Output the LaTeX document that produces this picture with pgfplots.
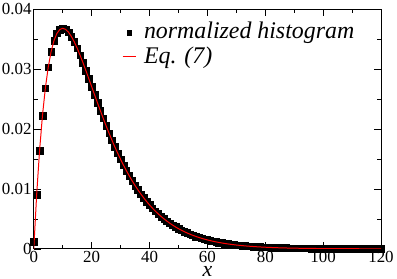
\documentclass[border={0pt 2pt 0pt 0pt}]{standalone}
\usepackage{fontspec}
\setmainfont{Liberation Serif}
\usepackage{pgfplots}
\usepackage{pgfplotstable}
\pgfplotsset{compat=1.18}
\pgfplotstableread{
x h f
0 0.001200 0
1 0.009048 0.009048
2 0.016375 0.016375
3 0.022225 0.022225
4 0.026813 0.026813
5 0.030327 0.030327
6 0.032929 0.032929
7 0.034761 0.034761
8 0.035946 0.035946
9 0.036591 0.036591
10 0.036788 0.036788
11 0.036616 0.036616
12 0.036143 0.036143
13 0.035429 0.035429
14 0.034524 0.034524
15 0.033470 0.033470
16 0.032304 0.032304
17 0.031056 0.031056
18 0.029754 0.029754
19 0.028418 0.028418
20 0.027067 0.027067
21 0.025716 0.025716
22 0.024377 0.024377
23 0.023060 0.023060
24 0.021772 0.021772
25 0.020521 0.020521
26 0.019311 0.019311
27 0.018146 0.018146
28 0.017027 0.017027
29 0.015957 0.015957
30 0.014936 0.014936
31 0.013965 0.013965
32 0.013044 0.013044
33 0.012171 0.012171
34 0.011347 0.011347
35 0.010569 0.010569
36 0.009837 0.009837
37 0.009148 0.009148
38 0.008501 0.008501
39 0.007894 0.007894
40 0.007326 0.007326
41 0.006795 0.006795
42 0.006298 0.006298
43 0.005835 0.005835
44 0.005402 0.005402
45 0.004999 0.004999
46 0.004624 0.004624
47 0.004275 0.004275
48 0.003950 0.003950
49 0.003649 0.003649
50 0.003369 0.003369
51 0.003109 0.003109
52 0.002869 0.002869
53 0.002646 0.002646
54 0.002439 0.002439
55 0.002248 0.002248
56 0.002071 0.002071
57 0.001907 0.001907
58 0.001756 0.001756
59 0.001616 0.001616
60 0.001487 0.001487
61 0.001368 0.001368
62 0.001258 0.001258
63 0.001157 0.001157
64 0.001064 0.001064
65 0.000977 0.000977
66 0.000898 0.000898
67 0.000825 0.000825
68 0.000758 0.000758
69 0.000696 0.000696
70 0.000638 0.000638
71 0.000586 0.000586
72 0.000538 0.000538
73 0.000493 0.000493
74 0.000452 0.000452
75 0.000415 0.000415
76 0.000380 0.000380
77 0.000349 0.000349
78 0.000320 0.000320
79 0.000293 0.000293
80 0.000268 0.000268
81 0.000246 0.000246
82 0.000226 0.000226
83 0.000207 0.000207
84 0.000189 0.000189
85 0.000173 0.000173
86 0.000158 0.000158
87 0.000145 0.000145
88 0.000133 0.000133
89 0.000121 0.000121
90 0.000111 0.000111
91 0.000102 0.000102
92 0.000093 0.000093
93 0.000085 0.000085
94 0.000078 0.000078
95 0.000071 0.000071
96 0.000065 0.000065
97 0.000059 0.000059
98 0.000054 0.000054
99 0.000050 0.000050
100 0.000045 0.000045
101 0.000042 0.000042
102 0.000038 0.000038
103 0.000035 0.000035
104 0.000032 0.000032
105 0.000029 0.000029
106 0.000026 0.000026
107 0.000024 0.000024
108 0.000022 0.000022
109 0.000020 0.000020
110 0.000018 0.000018
111 0.000017 0.000017
112 0.000015 0.000015
113 0.000014 0.000014
114 0.000013 0.000013
115 0.000012 0.000012
116 0.000011 0.000011
117 0.000010 0.000010
118 0.000009 0.000009
119 0.000008 0.000008
120 0.000007 0.000007
}\datatable
\begin{document}
\begin{tikzpicture}
\begin{axis}[
  scale only axis,
  width=349pt, height=241pt,
  xmin=0, xmax=120, ymin=0, ymax=0.04,
  xtick={0,20,...,120},
  ytick={0,0.01,0.02,0.03,0.04},
  minor x tick num=1, minor y tick num=1,
  tick align=inside, tick pos=both,
  major tick length=7pt, minor tick length=4pt,
  axis line style={line width=0.9pt},
  every tick/.style={black, line width=0.6pt},
  scaled y ticks=false,
  /pgf/number format/assume math mode=true,
  yticklabel style={/pgf/number format/fixed, /pgf/number format/precision=2, inner xsep=2pt},
  xticklabel style={inner ysep=2pt, text height=12pt, text depth=0pt},
  ticklabel style={font=\fontsize{17}{17}\selectfont},
  xlabel={x},
  xlabel style={at={(axis description cs:0.5,0)}, anchor=north,
    font=\fontsize{22}{22}\selectfont\itshape, inner sep=0pt, yshift=-17.5pt,
    text height=10pt, text depth=0.5pt},
  clip mode=individual,
  legend style={draw=none, fill=none, at={(0.245,0.96)}, anchor=north west,
    font=\fontsize{24}{25}\selectfont\itshape, row sep=0pt, column sep=6pt,
    nodes={inner ysep=1pt, inner xsep=2pt, text height=17pt, text depth=6pt}},
  legend cell align=left,
]
\addplot[only marks, mark=square*, mark size=3.3pt, black,
  legend image code/.code={\fill[black] (4.3pt,-1.8pt) rectangle (8.7pt,2.6pt);}]
  table[x=x, y=h] {\datatable};
\addlegendentry{normalized histogram}
\addplot[red, line width=1pt, no marks,
  legend image code/.code={\draw[red, line width=1.1pt] (0pt,2pt) -- (13pt,2pt);}]
  table[x=x, y=f] {\datatable};
\addlegendentry{Eq. (7)}
\end{axis}
\end{tikzpicture}
\end{document}
